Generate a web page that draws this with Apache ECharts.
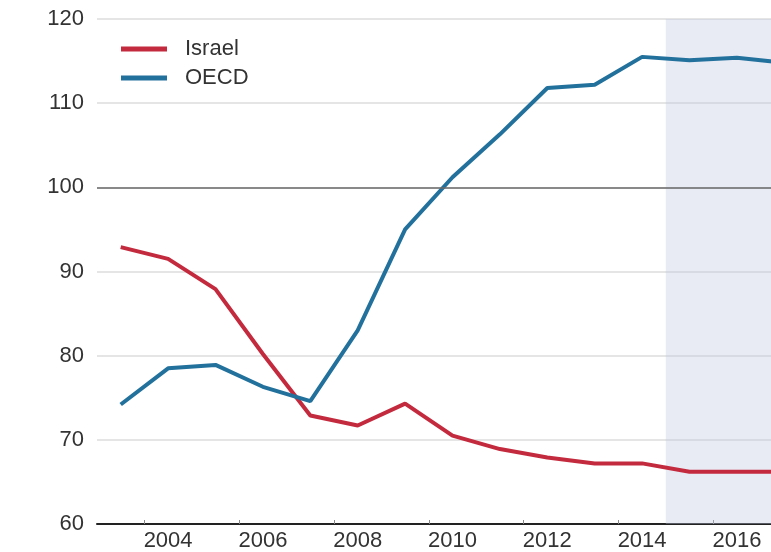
<!DOCTYPE html>
<html>
<head>
<meta charset="utf-8">
<script src="https://cdn.jsdelivr.net/npm/echarts@6/dist/echarts.min.js"></script>
<style>
html,body{margin:0;padding:0;background:#fff;width:771px;height:552px;overflow:hidden;}
#chart{width:808px;height:552px;}
</style>
</head>
<body>
<div id="chart"></div>
<script>
var years = ['2003','2004','2005','2006','2007','2008','2009','2010','2011','2012','2013','2014','2015','2016','2017'];
var israel = [92.9, 91.5, 87.9, 80.2, 72.9, 71.7, 74.3, 70.5, 68.9, 67.9, 67.2, 67.2, 66.2, 66.2, 66.2];
var oecd = [74.2, 78.5, 78.9, 76.3, 74.6, 83.0, 95.0, 101.2, 106.3, 111.8, 112.2, 115.5, 115.1, 115.4, 114.8];
var shadeFrom = '2015';
var yTicks = [60, 70, 80, 90, 100, 110, 120];
var refLine = 100;

var shadeStartIdx = years.indexOf(shadeFrom);
var chart = echarts.init(document.getElementById('chart'), null, {renderer: 'canvas'});
var font = 'Liberation Sans, Arial, sans-serif';
chart.setOption({
  animation: false,
  backgroundColor: '#fff',
  grid: {left: 97, right: 0, top: 19, bottom: 26, containLabel: false},
  legend: {
    left: 116, top: 33, orient: 'vertical', itemGap: 7,
    itemWidth: 46, itemHeight: 5,
    icon: 'rect',
    textStyle: {fontFamily: font, fontSize: 22, color: '#333', padding: [0, 0, 0, 13]},
    data: ['Israel', 'OECD']
  },
  xAxis: [{
    type: 'category', data: years, boundaryGap: true,
    axisLine: {show: true, lineStyle: {color: '#222', width: 2}},
    axisTick: {show: true, inside: true, length: 4, lineStyle: {color: '#888'}},
    axisLabel: {
      fontFamily: font, fontSize: 22, color: '#333', margin: 6,
      interval: function (i, v) { return parseInt(v, 10) % 2 === 0; }
    },
    splitLine: {show: false}
  }, {
    type: 'value', min: 0, max: years.length, show: false,
    splitLine: {show: false}
  }],
  yAxis: {
    type: 'value', min: yTicks[0], max: yTicks[yTicks.length - 1], interval: 10,
    axisLine: {show: false}, axisTick: {show: false},
    axisLabel: {fontFamily: font, fontSize: 22, color: '#333', margin: 13},
    splitLine: {show: true, lineStyle: {color: '#dcdcdc', width: 1.5}}
  },
  series: [
    {
      name: 'shade', type: 'line', xAxisIndex: 1, data: [], silent: true,
      markArea: {
        silent: true,
        itemStyle: {color: 'rgba(189,195,224,0.35)'},
        data: [[{xAxis: shadeStartIdx}, {xAxis: years.length}]]
      },
      z: 1
    },
    {
      name: 'Israel', type: 'line', data: israel, symbol: 'none',
      lineStyle: {color: '#c42a3d', width: 4}, itemStyle: {color: '#c42a3d'},
      markLine: {
        silent: true, symbol: 'none', label: {show: false},
        lineStyle: {color: '#6a6a6a', width: 1.5, type: 'solid'},
        data: [{yAxis: refLine}]
      },
      z: 3
    },
    {
      name: 'OECD', type: 'line', data: oecd, symbol: 'none',
      lineStyle: {color: '#22709c', width: 4}, itemStyle: {color: '#22709c'},
      z: 4
    }
  ]
});
</script>
</body>
</html>
